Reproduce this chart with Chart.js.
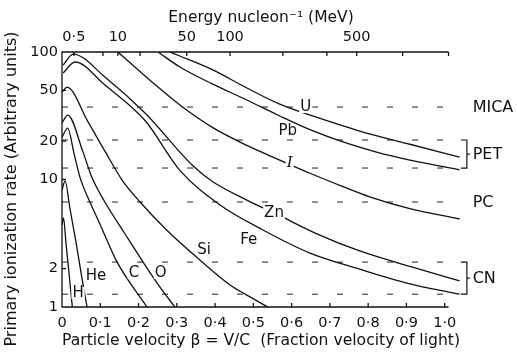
<!DOCTYPE html>
<html>
<head>
<meta charset="utf-8">
<script src="https://cdn.jsdelivr.net/npm/chart.js@4.4.1/dist/chart.umd.min.js"></script>
<style>
  html, body { margin: 0; padding: 0; background: #fff; }
  #wrap { width: 517px; height: 352px; }
</style>
</head>
<body>
<div id="wrap"><canvas id="chart" width="517" height="352"></canvas></div>
<script>
// bottom axis: particle velocity beta
const betaTicks = [0, 0.1, 0.2, 0.3, 0.4, 0.5, 0.6, 0.7, 0.8, 0.9, 1.0];
// top axis: energy per nucleon, at the beta where each tick sits in the figure
const energyTickBeta = [0.031, 0.107, 0.146, 0.204, 0.326, 0.439, 0.577, 0.692, 0.770, 0.890, 1.010];
const energyTickLabels = ['0·5', '', '10', '', '50', '100', '', '', '500', '', ''];
const rateTicks = [1, 2, 10, 20, 50, 100];

// primary ionization rate curves (beta, rate)
const hBeta = [0, 0.004, 0.0104, 0.018, 0.027];
const hRate = [4.4, 5.0, 3.17, 1.88, 1.0];
const heBeta = [0, 0.008, 0.021, 0.037, 0.052, 0.0655];
const heRate = [8.3, 9.7, 5.86, 3.17, 1.69, 1.0];
const cBeta = [0, 0.015, 0.031, 0.047, 0.073, 0.099, 0.144, 0.222];
const cRate = [21.5, 25.3, 16.2, 10.4, 6.66, 4.48, 2.25, 1.0];
const oBeta = [0, 0.015, 0.055, 0.078, 0.112, 0.164, 0.217, 0.256, 0.295];
const oRate = [27.8, 32.0, 16.4, 10.4, 6.66, 3.77, 2.13, 1.43, 1.0];
const siBeta = [0, 0.013, 0.068, 0.112, 0.157, 0.204, 0.274, 0.36, 0.439, 0.483, 0.538];
const siRate = [48.5, 53, 28.3, 16.7, 9.9, 6.66, 4.0, 2.34, 1.49, 1.24, 1.0];
const feBeta = [0.003, 0.034, 0.112, 0.217, 0.308, 0.413, 0.525, 0.648, 0.778, 0.909, 1.039];
const feRate = [68.4, 83.5, 55.1, 29.0, 11.8, 6.3, 4.02, 2.65, 1.98, 1.52, 1.26];
const znBeta = [0.003, 0.029, 0.112, 0.217, 0.342, 0.394, 0.483, 0.569, 0.666, 0.778, 0.909, 1.039];
const znRate = [79, 96.4, 63.7, 33.2, 12.8, 9.6, 6.9, 5.2, 3.75, 2.75, 2.08, 1.6];
const iBeta = [0.146, 0.235, 0.308, 0.394, 0.483, 0.569, 0.648, 0.734, 0.804, 0.909, 1.039];
const iRate = [100, 58.2, 38.4, 25.5, 18.5, 14.2, 11.2, 8.8, 7.3, 5.9, 4.9];
const pbBeta = [0.251, 0.308, 0.394, 0.483, 0.569, 0.648, 0.734, 0.822, 0.909, 1.039];
const pbRate = [100, 76.3, 56.0, 42.0, 31.5, 24.6, 19.7, 16.4, 14.2, 11.9];
const uBeta = [0.282, 0.308, 0.394, 0.483, 0.569, 0.655, 0.778, 0.909, 1.039];
const uRate = [100, 93, 72.3, 52.2, 39.0, 31.5, 24.0, 18.9, 15.0];

// curve labels
const ionNames = ['H', 'He', 'C', 'O', 'Si', 'Fe', 'Zn', 'I', 'Pb', 'U'];
const ionLabelBeta = [0.042, 0.089, 0.188, 0.258, 0.371, 0.488, 0.554, 0.595, 0.590, 0.637];
const ionLabelRate = [1.29, 1.75, 1.85, 1.85, 2.80, 3.35, 5.46, 13.5, 24.0, 37.0];

// detector registration thresholds (dashed lines)
const detectors = ['MICA', 'PET', 'PC', 'CN'];
const detectorLow = [37.0, 12.3, 6.66, 1.26];
const detectorHigh = [37.0, 20.4, 6.66, 2.25];

const ink = '#111';
const font = '"DejaVu Sans", sans-serif';
const axisEnd = 1.01;

const curve = (beta, rate) => ({
  data: beta.map((b, i) => ({ x: b, y: rate[i] })),
  borderColor: ink,
  borderWidth: 1.3,
  pointRadius: 0,
  cubicInterpolationMode: 'monotone',
  xAxisID: 'x',
  yAxisID: 'y'
});

const track = (level, end) => ({
  data: [{ x: 0, y: level }, { x: end, y: level }],
  borderColor: '#222',
  borderWidth: 1,
  borderDash: [6, 19],
  pointRadius: 0,
  xAxisID: 'x',
  yAxisID: 'y'
});

const trackDatasets = [];
detectors.forEach((name, i) => {
  const end = detectorLow[i] === detectorHigh[i] ? 1.015 : 1.04;
  trackDatasets.push(track(detectorHigh[i], end));
  if (detectorLow[i] !== detectorHigh[i]) trackDatasets.push(track(detectorLow[i], end));
});

const fmtBeta = (v) => (v === 0 ? '0' : v.toFixed(1).replace('.', '·'));

const overlay = {
  id: 'overlay',
  afterDatasetsDraw(chart) {
    const { ctx, scales: { x, y } } = chart;
    const x0 = x.getPixelForValue(0);
    const xEnd = x.getPixelForValue(axisEnd);
    const yTop = y.getPixelForValue(100);
    const yBot = y.getPixelForValue(1);

    ctx.save();
    ctx.strokeStyle = ink;
    ctx.lineWidth = 1.3;
    ctx.beginPath();
    ctx.moveTo(xEnd, yTop); ctx.lineTo(x0, yTop); ctx.lineTo(x0, yBot); ctx.lineTo(xEnd, yBot);
    betaTicks.forEach((b) => { const p = x.getPixelForValue(b); ctx.moveTo(p, yBot); ctx.lineTo(p, yBot - 4); });
    energyTickBeta.forEach((b) => { const p = x.getPixelForValue(b); ctx.moveTo(p, yTop); ctx.lineTo(p, yTop + 4); });
    rateTicks.forEach((r) => { const p = y.getPixelForValue(r); ctx.moveTo(x0, p); ctx.lineTo(x0 + 4, p); });
    ctx.stroke();

    // ion labels
    ctx.textAlign = 'center';
    ctx.textBaseline = 'middle';
    ionNames.forEach((name, i) => {
      const px = x.getPixelForValue(ionLabelBeta[i]);
      const py = y.getPixelForValue(ionLabelRate[i]);
      ctx.font = name === 'I' ? 'italic 15px "DejaVu Serif", serif' : '15px ' + font;
      const w = ctx.measureText(name).width;
      ctx.fillStyle = '#fff';
      ctx.fillRect(px - w / 2 - 1, py - 6, w + 2, 12);
      ctx.fillStyle = ink;
      ctx.fillText(name, px, py);
    });

    // detector brackets and names
    ctx.font = '16px ' + font;
    ctx.textAlign = 'left';
    ctx.lineWidth = 1.2;
    detectors.forEach((name, i) => {
      const hi = y.getPixelForValue(detectorHigh[i]);
      const lo = y.getPixelForValue(detectorLow[i]);
      const mid = (hi + lo) / 2;
      if (hi !== lo) {
        const bx = x.getPixelForValue(1.058);
        ctx.beginPath();
        ctx.moveTo(bx - 6, hi); ctx.lineTo(bx, hi); ctx.lineTo(bx, lo); ctx.lineTo(bx - 6, lo);
        ctx.moveTo(bx, mid); ctx.lineTo(bx + 3, mid);
        ctx.stroke();
      }
      ctx.fillStyle = ink;
      ctx.fillText(name, x.getPixelForValue(1.073), mid + 1);
    });

    // y title
    ctx.translate(12, 189);
    ctx.rotate(-Math.PI / 2);
    ctx.textAlign = 'center';
    ctx.font = '16px ' + font;
    ctx.fillText('Primary ionization rate (Arbitrary units)', 0, 0);
    ctx.restore();
  }
};

new Chart(document.getElementById('chart'), {
  type: 'line',
  data: {
    datasets: [
      curve(hBeta, hRate), curve(heBeta, heRate), curve(cBeta, cRate), curve(oBeta, oRate),
      curve(siBeta, siRate), curve(feBeta, feRate), curve(znBeta, znRate), curve(iBeta, iRate),
      curve(pbBeta, pbRate), curve(uBeta, uRate),
      ...trackDatasets
    ]
  },
  options: {
    responsive: false,
    animation: false,
    layout: { padding: { left: 0, right: 57, top: 0, bottom: 0 } },
    plugins: { legend: { display: false }, tooltip: { enabled: false } },
    scales: {
      x: {
        type: 'linear', position: 'bottom', min: 0, max: 1.04,
        grid: { display: false, drawTicks: false }, border: { display: false },
        afterBuildTicks: (s) => { s.ticks = betaTicks.map((v) => ({ value: v })); },
        afterFit: (s) => { s.height = 45; },
        ticks: { callback: (v) => fmtBeta(v), color: ink, font: { family: font, size: 14.5 }, padding: 8, autoSkip: false, maxRotation: 0 },
        title: { display: true, text: 'Particle velocity β = V/C  (Fraction velocity of light)', color: ink, font: { family: font, size: 16 }, padding: { top: 0, bottom: 2 } }
      },
      x2: {
        type: 'linear', position: 'top', min: 0, max: 1.04,
        grid: { display: false, drawTicks: false }, border: { display: false },
        afterBuildTicks: (s) => { s.ticks = energyTickBeta.map((v) => ({ value: v })); },
        afterFit: (s) => { s.height = 52; },
        ticks: { callback: (v, i) => energyTickLabels[i], color: ink, font: { family: font, size: 14.5 }, padding: 6, autoSkip: false, maxRotation: 0 },
        title: { display: true, text: 'Energy nucleon⁻¹ (MeV)', color: ink, font: { family: font, size: 15.5 }, padding: { top: 9, bottom: 0 } }
      },
      y: {
        type: 'logarithmic', position: 'left', min: 1, max: 100,
        grid: { display: false, drawTicks: false }, border: { display: false },
        afterBuildTicks: (s) => { s.ticks = rateTicks.map((v) => ({ value: v })); },
        afterFit: (s) => { s.width = 62; },
        ticks: { callback: (v) => String(v), color: ink, font: { family: font, size: 14.5 }, padding: 4, autoSkip: false }
      }
    }
  },
  plugins: [overlay]
});
</script>
</body>
</html>
